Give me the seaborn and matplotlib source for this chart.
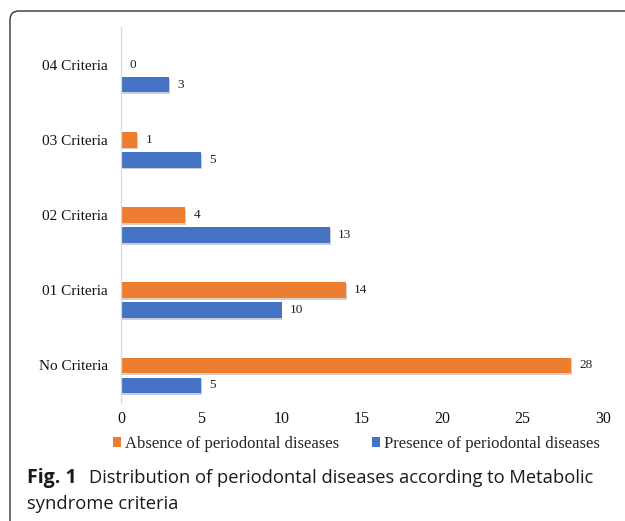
import matplotlib
matplotlib.use("Agg")
import matplotlib.pyplot as plt
import matplotlib.patheffects as pe
from matplotlib.patches import FancyBboxPatch, Patch
import pandas as pd
import seaborn as sns

categories = ["04 Criteria", "03 Criteria", "02 Criteria", "01 Criteria", "No Criteria"]
absence = [0, 1, 4, 14, 28]
presence = [3, 5, 13, 10, 5]
series = ["Absence of periodontal diseases", "Presence of periodontal diseases"]
x_ticks = [0, 5, 10, 15, 20, 25, 30]
colors = ["#ED7D31", "#4472C4"]

df = pd.DataFrame({
    "criteria": categories * 2,
    "count": absence + presence,
    "series": [series[0]] * len(categories) + [series[1]] * len(categories),
})

sns.set_theme(style="white")
plt.rcParams["font.family"] = ["Liberation Serif", "DejaVu Serif"]

fig = plt.figure(figsize=(6.25, 5.21), dpi=100)
ax = fig.add_axes([0.1936, 0.2265, 0.7712, 0.7217])

sns.barplot(data=df, y="criteria", x="count", hue="series", order=categories,
            hue_order=series, palette=colors, orient="h", width=0.533, gap=0.22,
            saturation=1, legend=False, ax=ax)

# soft drop shadow under each bar
for p in ax.patches:
    p.set_linewidth(0)
    p.set_path_effects([pe.SimplePatchShadow(offset=(0.5, -1.3), alpha=0.22), pe.Normal()])

for cont in ax.containers:
    ax.bar_label(cont, fmt="%d", padding=6, fontsize=9.5, color="#222222")

# category labels sit level with the first series' bars
centers = [p.get_y() + p.get_height() / 2 for p in ax.containers[0]]
ax.set_yticks(centers, categories)
ax.set_ylim(max(centers) + 0.5, min(centers) - 0.5)
ax.set_xlim(x_ticks[0], x_ticks[-1])
ax.set_xticks(x_ticks, [str(t) for t in x_ticks])
ax.set_xlabel("")
ax.set_ylabel("")
ax.tick_params(axis="y", length=0, pad=9.5, labelsize=11, labelcolor="#111111")
ax.tick_params(axis="x", length=0, pad=6, labelsize=11.5, labelcolor="#111111")
for side in ["top", "right", "bottom"]:
    ax.spines[side].set_visible(False)
ax.spines["left"].set_color("#d9d9d9")
ax.spines["left"].set_linewidth(0.9)

handles = [Patch(facecolor=c, edgecolor="none") for c in colors]
fig.legend(handles, series, loc="center", bbox_to_anchor=(0.57, 1 - 444 / 521), ncol=2,
           frameon=False, handlelength=0.5, handleheight=0.5, handletextpad=0.2,
           columnspacing=2.0, fontsize=12)

# caption
cap_x = 27 / 625
cap_y1 = 1 - 478 / 521
cap_y2 = 1 - 504 / 521
fig_lbl = fig.text(cap_x, cap_y1, "Fig. 1", fontsize=14, fontweight="bold",
                   family="Open Sans", va="center", ha="left", color="#1a1a1a")
fig.canvas.draw()
bb = fig_lbl.get_window_extent(fig.canvas.get_renderer())
fig.text((bb.x1 + 12) / fig.bbox.width, cap_y1,
         "Distribution of periodontal diseases according to Metabolic",
         fontsize=13.25, family="Open Sans", va="center", ha="left", color="#1a1a1a")
fig.text(cap_x, cap_y2, "syndrome criteria", fontsize=13.25, family="Open Sans",
         va="center", ha="left", color="#1a1a1a")

# rounded frame around the figure panel
frame = FancyBboxPatch((0.10, -0.3), 6.5, 5.40, boxstyle="round,pad=0,rounding_size=0.09",
                       transform=fig.dpi_scale_trans, facecolor="none",
                       edgecolor="#333333", linewidth=1.0, clip_on=False)
fig.add_artist(frame)

fig.savefig("out.png", dpi=100)
